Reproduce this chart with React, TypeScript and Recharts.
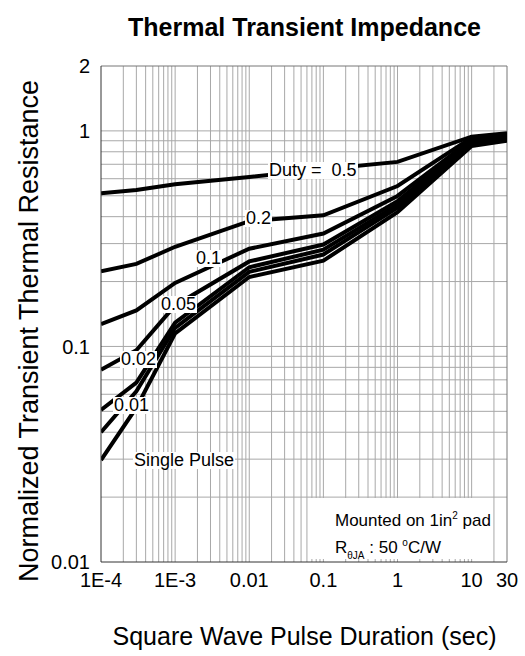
import React from "react";
import { LineChart, Line, XAxis, YAxis, ReferenceLine } from "recharts";

const FONT = '"Liberation Sans", Arial, sans-serif';

// pulse duration (sec) where the curves are sampled
const pulseDuration = [1e-4, 3e-4, 1e-3, 0.01, 0.1, 1, 10, 30];

// normalized Zth for each duty cycle
const duty05 = [0.513, 0.532, 0.565, 0.611, 0.664, 0.718, 0.94, 0.976];
const duty02 = [0.223, 0.2415, 0.29, 0.381, 0.406, 0.555, 0.93, 0.965];
const duty01 = [0.127, 0.147, 0.197, 0.284, 0.334, 0.499, 0.91, 0.955];
const duty005 = [0.078, 0.096, 0.155, 0.248, 0.297, 0.472, 0.895, 0.945];
const duty002 = [0.0507, 0.068, 0.129, 0.233, 0.281, 0.455, 0.88, 0.935];
const duty001 = [0.04, 0.062, 0.122, 0.222, 0.267, 0.44, 0.865, 0.92];
const singlePulse = [0.0297, 0.052, 0.115, 0.21, 0.25, 0.42, 0.85, 0.9];

const xTicks = [1e-4, 1e-3, 0.01, 0.1, 1, 10, 30];
const xTickLabels = ["1E-4", "1E-3", "0.01", "0.1", "1", "10", "30"];
const yTicks = [0.01, 0.1, 1, 2];
const yTickLabels = ["0.01", "0.1", "1", "2"];

const mantissas = [1, 2, 3, 4, 5, 6, 7, 8, 9];
const xGrid = [1e-4, 1e-3, 0.01, 0.1, 1]
  .flatMap((d) => mantissas.map((m) => +(m * d).toPrecision(3)))
  .concat([10, 20])
  .filter((v) => v > 1e-4);
const yGrid = [0.01, 0.1]
  .flatMap((d) => mantissas.map((m) => +(m * d).toPrecision(3)))
  .concat([1])
  .filter((v) => v > 0.01);

const series = [
  { key: "d05", values: duty05 },
  { key: "d02", values: duty02 },
  { key: "d01", values: duty01 },
  { key: "d005", values: duty005 },
  { key: "d002", values: duty002 },
  { key: "d001", values: duty001 },
  { key: "single", values: singlePulse },
];

const data = pulseDuration.map((t, i) => {
  const row: Record<string, number> = { t };
  series.forEach((s) => (row[s.key] = s.values[i]));
  return row;
});

const fmt = (ticks: number[], labels: string[]) => (v: number) => {
  const i = ticks.findIndex((t) => Math.abs(t - v) / t < 1e-6);
  return i >= 0 ? labels[i] : "";
};

function Tag({ left, top, children, size = 18 }: any) {
  return (
    <div
      style={{
        position: "absolute",
        left,
        top,
        fontFamily: FONT,
        fontSize: size,
        lineHeight: `${size - 1}px`,
        background: "#fff",
        padding: "0 1px",
        whiteSpace: "pre",
        color: "#000",
      }}
    >
      {children}
    </div>
  );
}

export default function App() {
  return (
    <div style={{ position: "absolute", left: 0, top: 0, width: 525, height: 656, background: "#fff" }}>
      <LineChart
        width={525}
        height={656}
        data={data}
        margin={{ top: 66, right: 18, bottom: 64, left: 41 }}
      >
        {xGrid.map((v) => (
          <ReferenceLine key={"x" + v} x={v} stroke="#a8a8a8" strokeWidth={1} />
        ))}
        {yGrid.map((v) => (
          <ReferenceLine key={"y" + v} y={v} stroke="#a8a8a8" strokeWidth={1} />
        ))}
        <ReferenceLine x={30} stroke="#777" strokeWidth={1} />
        <ReferenceLine y={2} stroke="#777" strokeWidth={1} />
        <XAxis
          dataKey="t"
          type="number"
          scale="log"
          domain={[1e-4, 30]}
          ticks={xTicks}
          interval={0}
          allowDataOverflow
          tickFormatter={fmt(xTicks, xTickLabels)}
          axisLine={{ stroke: "#333" }}
          tickLine={false}
          tickSize={0}
          tickMargin={11}
          height={30}
          tick={{ fill: "#000", fontSize: 20, fontFamily: FONT }}
        />
        <YAxis
          type="number"
          scale="log"
          domain={[0.01, 2]}
          ticks={yTicks}
          interval={0}
          allowDataOverflow
          tickFormatter={fmt(yTicks, yTickLabels)}
          axisLine={{ stroke: "#333" }}
          tickLine={false}
          tickSize={0}
          tickMargin={11}
          width={60}
          tick={{ fill: "#000", fontSize: 20, fontFamily: FONT }}
        />
        {series.map((s) => (
          <Line
            key={s.key}
            dataKey={s.key}
            type="linear"
            stroke="#000"
            strokeWidth={4}
            dot={false}
            activeDot={false}
            isAnimationActive={false}
          />
        ))}
      </LineChart>

      <div
        style={{
          position: "absolute",
          left: 0,
          width: 525,
          top: 15,
          textAlign: "center",
          paddingLeft: 84,
          boxSizing: "border-box",
          fontFamily: FONT,
          fontWeight: "bold",
          fontSize: 25,
          lineHeight: "25px",
        }}
      >
        Thermal Transient Impedance
      </div>
      <div
        style={{
          position: "absolute",
          left: 0,
          width: 525,
          top: 624,
          textAlign: "center",
          paddingLeft: 84,
          boxSizing: "border-box",
          fontFamily: FONT,
          fontSize: 25,
          lineHeight: "25px",
        }}
      >
        Square Wave Pulse Duration (sec)
      </div>
      <div
        style={{
          position: "absolute",
          left: 29,
          top: 331,
          width: 0,
          height: 0,
        }}
      >
        <div
          style={{
            position: "absolute",
            left: 0,
            top: 0,
            transform: "translate(-50%, -50%) rotate(-90deg)",
            whiteSpace: "nowrap",
            fontFamily: FONT,
            fontSize: 27,
            lineHeight: "27px",
          }}
        >
          Normalized Transient Thermal Resistance
        </div>
      </div>

      <Tag left={268} top={162}>{"Duty =  0.5"}</Tag>
      <Tag left={245} top={210}>0.2</Tag>
      <Tag left={195} top={250}>0.1</Tag>
      <Tag left={160} top={296}>0.05</Tag>
      <Tag left={120} top={351}>0.02</Tag>
      <Tag left={113} top={397}>0.01</Tag>
      <Tag left={133} top={452}>Single Pulse</Tag>

      <div
        style={{
          position: "absolute",
          left: 310,
          top: 498,
          width: 182,
          height: 61,
          background: "#fff",
          fontFamily: FONT,
          fontSize: 17,
          color: "#000",
        }}
      >
        <div style={{ position: "absolute", left: 25, top: 9, whiteSpace: "nowrap", lineHeight: "17px" }}>
          Mounted on 1in<sup style={{ fontSize: 10, verticalAlign: "7px" }}>2</sup> pad
        </div>
        <div style={{ position: "absolute", left: 25, top: 36, whiteSpace: "nowrap", lineHeight: "17px" }}>
          R<sub style={{ fontSize: 10, verticalAlign: "-6px" }}>θJA</sub> : 50 <sup style={{ fontSize: 10, verticalAlign: "7px" }}>o</sup>C/W
        </div>
      </div>
    </div>
  );
}
